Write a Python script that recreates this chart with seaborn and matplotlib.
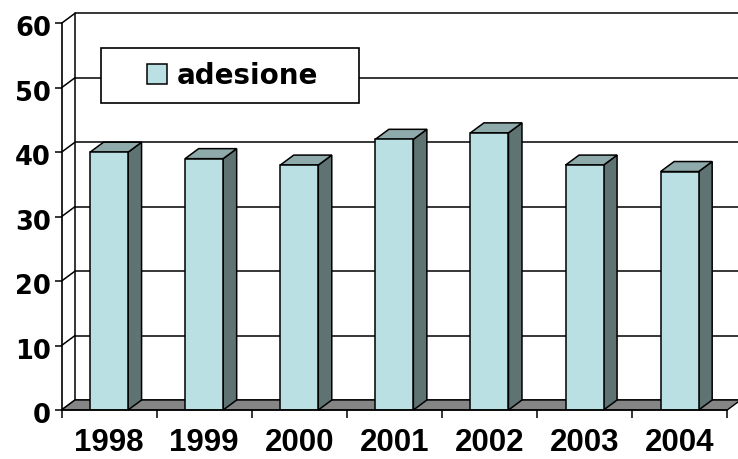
import matplotlib
matplotlib.use("Agg")
import matplotlib.pyplot as plt
import matplotlib.transforms as mtransforms
from matplotlib.patches import Polygon, Rectangle, Patch
from matplotlib.legend_handler import HandlerPatch
import seaborn as sns
import pandas as pd
import numpy as np

# ---- data ----
years = ["1998", "1999", "2000", "2001", "2002", "2003", "2004"]
adesione = [40, 39, 38, 42, 43, 38, 37]
series_name = "adesione"
y_ticks = [0, 10, 20, 30, 40, 50, 60]

# ---- style ----
FRONT = "#BBE0E3"
SIDE = "#5F7373"
TOP = "#8FAAAB"
FLOOR = "#858585"

sns.set_theme(style="ticks", rc={"axes.edgecolor": "black", "xtick.color": "black",
                                 "ytick.color": "black", "text.color": "black",
                                 "axes.labelcolor": "black"})
plt.rcParams['font.family'] = ['DejaVu Sans']

DPI = 100
W, H = 738, 459
fig = plt.figure(figsize=(W / DPI, H / DPI), dpi=DPI)
fig.patch.set_facecolor("white")

# front plane of the plot (pixels)
L, R, B, T = 61.5, 727.2, 410.0, 23.3
ax = fig.add_axes([L / W, (H - B) / H, (R - L) / W, (B - T) / H])
ax.set_facecolor("none")

df = pd.DataFrame({"anno": years, "valore": adesione})
sns.barplot(data=df, x="anno", y="valore", color=FRONT, saturation=1, width=0.4,
            edgecolor="black", linewidth=1.1, ax=ax, zorder=4)

n = len(years)
ymax = y_ticks[-1]
ax.set_xlim(-0.5, n - 0.5)
ax.set_ylim(0, ymax)

# depth offset (pixels) converted to data units
DX_PX, DY_PX = 13.5, 10.0
ddx = DX_PX / ((R - L) / n)
ddy = DY_PX / ((B - T) / ymax)

# back wall gridlines and left side wall
x_lo, x_hi = -0.5, n - 0.5
for v in y_ticks:
    ax.plot([x_lo + ddx, x_hi + ddx + 0.5], [v + ddy, v + ddy], color="black", lw=1.1,
            zorder=1, clip_on=False, solid_capstyle="butt")
    ax.plot([x_lo, x_lo + ddx], [v, v + ddy], color="black", lw=1.1, zorder=1,
            clip_on=False)
ax.plot([x_lo + ddx, x_lo + ddx], [ddy, ymax + ddy], color="black", lw=1.1, zorder=1,
        clip_on=False)

# floor
floor = Polygon([(x_lo, 0), (x_hi, 0), (x_hi + ddx, ddy), (x_lo + ddx, ddy)],
                closed=True, facecolor=FLOOR, edgecolor="black", lw=1.0, zorder=2,
                clip_on=False)
ax.add_patch(floor)

# 3D sides and tops of bars (from the bars seaborn drew)
for p in list(ax.patches):
    if p is floor:
        continue
    x0 = p.get_x()
    w = p.get_width()
    v = p.get_height()
    x1 = x0 + w
    side = Polygon([(x1, 0), (x1, v), (x1 + ddx, v + ddy), (x1 + ddx, ddy)], closed=True,
                   facecolor=SIDE, edgecolor="black", lw=1.1, zorder=3, clip_on=False)
    top = Polygon([(x0, v), (x1, v), (x1 + ddx, v + ddy), (x0 + ddx, v + ddy)], closed=True,
                  facecolor=TOP, edgecolor="black", lw=1.1, zorder=3, clip_on=False)
    ax.add_patch(side)
    ax.add_patch(top)

# spines / ticks
for s in ["top", "right"]:
    ax.spines[s].set_visible(False)
ax.spines["left"].set_linewidth(1.2)
ax.spines["bottom"].set_linewidth(1.1)
ax.spines["left"].set_zorder(5)
ax.spines["bottom"].set_zorder(5)

ax.set_yticks(y_ticks)
ax.set_yticklabels([str(t) for t in y_ticks], fontsize=18.5, fontweight="bold",
                   family=["DejaVu Sans"], color="black")
ax.tick_params(axis="y", length=5, width=1.1, direction="out", pad=2.5, left=True)
off = mtransforms.ScaledTranslation(0, -3 / DPI, fig.dpi_scale_trans)
for lab in ax.get_yticklabels():
    lab.set_transform(lab.get_transform() + off)

ax.set_xticks(range(n))
ax.set_xticklabels(years, fontsize=22.5, fontweight="bold", family=["Liberation Sans"],
                   color="black")
ax.set_xticks(np.arange(-0.5, n, 1), minor=True)
ax.tick_params(axis="x", which="major", length=0, pad=13, bottom=True)
ax.tick_params(axis="x", which="minor", length=6, width=1.1, direction="out", bottom=True)
ax.set_xlabel("")
ax.set_ylabel("")


# legend
class SquareHandler(HandlerPatch):
    def create_artists(self, legend, orig_handle, xdescent, ydescent, width, height,
                       fontsize, trans):
        s = 20 * 72 / DPI
        r = Rectangle((-xdescent + width - s, -ydescent + (height - s) / 2), s, s,
                      facecolor=FRONT, edgecolor="black", lw=1.1)
        r.set_transform(trans)
        return [r]


handle = Patch(facecolor=FRONT, edgecolor="black")
leg = ax.legend([handle], [series_name], handler_map={Patch: SquareHandler()},
                loc="center left", mode="expand",
                bbox_to_anchor=(101 / W, (H - 106) / H, 258 / W, 61 / H),
                bbox_transform=fig.transFigure, borderaxespad=0, borderpad=0.5,
                handlelength=1.87, handleheight=0.72, handletextpad=0.34,
                fancybox=False, framealpha=1, frameon=True,
                prop={"family": "DejaVu Sans", "weight": "bold", "size": 20})
leg.get_frame().set_edgecolor("black")
leg.get_frame().set_linewidth(1.2)
for t in leg.get_texts():
    t.set_color("black")
leg.set_zorder(10)

fig.savefig("out.png", dpi=DPI)
